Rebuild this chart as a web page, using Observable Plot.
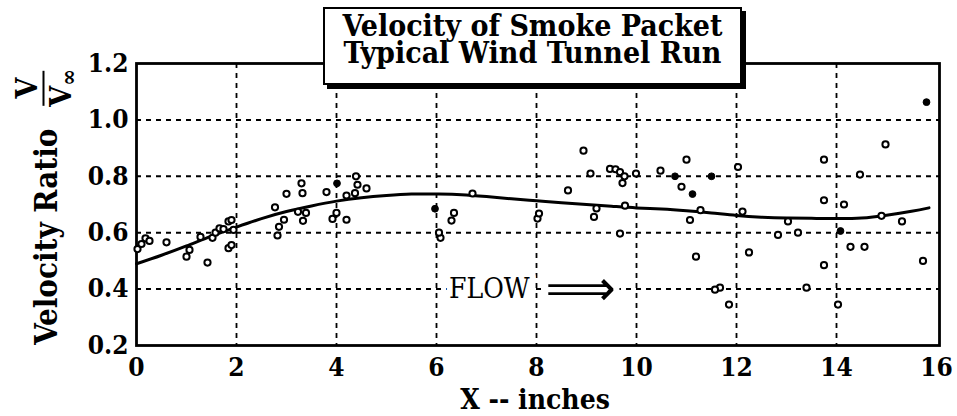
<!DOCTYPE html>
<html>
<head>
<meta charset="utf-8">
<script src="https://cdn.jsdelivr.net/npm/d3@7"></script>
<script src="https://cdn.jsdelivr.net/npm/@observablehq/plot@0.6"></script>
<style>
  html, body { margin: 0; padding: 0; background: #fff; }
  #wrap { position: relative; width: 957px; height: 416px; overflow: hidden; font-family: 'DejaVu Serif Condensed', 'DejaVu Serif', serif; font-weight: bold; color: #000; }
  #title { position: absolute; left: 323px; top: 7px; width: 419px; height: 78px; box-sizing: border-box;
           border: 2px solid #000; background: #fff; box-shadow: 4px 4px 0 #000;
           font-size: 30px; text-align: center; white-space: nowrap; }
  #title .l1, #title .l2 { position: absolute; left: 0; right: 0; height: 27px; line-height: 27px; }
  #title .l1 { top: 3px; }
  #title .l2 { top: 30px; }
  #ylab { position: absolute; left: 45px; top: 207px; transform: translate(-50%, -50%) rotate(-90deg);
          white-space: nowrap; font-size: 31px; display: flex; align-items: center; }
  .frac { display: inline-flex; flex-direction: column; align-items: center; margin-left: 22px; line-height: 1; font-size: 30px; }
  .frac .num { border-bottom: 2.5px solid #000; padding: 0 7px 1px 7px; }
  .frac .den { padding-top: 1px; }
  .frac sub { font-size: 22px; vertical-align: -5px; }
</style>
</head>
<body>
<div id="wrap">
  <div id="chart"></div>
  <div id="title"><div class="l1">Velocity of Smoke Packet</div><div class="l2">Typical Wind Tunnel Run</div></div>
  <div id="ylab"><span>Velocity Ratio</span><span class="frac"><span class="num">V</span><span class="den">V<sub>∞</sub></span></span></div>
</div>
<script>
// ---- data ----
const xTicks = [0, 2, 4, 6, 8, 10, 12, 14, 16];
const yTicks = [0.2, 0.4, 0.6, 0.8, 1.0, 1.2];
const xGrid = [2, 4, 6, 8, 10, 12, 14];
const yGrid = [0.4, 0.6, 0.8, 1.0];

// fitted curve
const curveX = [0, 0.5, 1, 1.5, 2, 2.5, 3, 3.5, 4, 4.5, 5, 5.5, 6, 6.5, 7, 7.5, 8, 8.5, 9, 9.5, 10, 10.5, 11, 11.5, 12, 12.5, 13, 13.5, 14, 14.5, 15, 15.5, 15.85];
const curveY = [0.49, 0.52, 0.553, 0.588, 0.62, 0.65, 0.675, 0.695, 0.712, 0.724, 0.732, 0.737, 0.737, 0.735, 0.728, 0.72, 0.713, 0.706, 0.700, 0.694, 0.688, 0.684, 0.678, 0.67, 0.661, 0.655, 0.652, 0.651, 0.65, 0.652, 0.662, 0.676, 0.688];

// open-circle measurements
const openX = [0.02, 0.10, 0.18, 0.26, 0.60, 1.00, 1.06, 1.42, 1.28, 1.52, 1.58, 1.66, 1.74, 1.84, 1.90, 1.94, 1.84, 1.90,
  2.77, 2.95, 2.85, 2.82, 3.0, 3.3, 3.32, 3.23, 3.39, 3.33, 3.8, 4.0, 3.92, 4.2, 4.2, 4.37, 4.39, 4.42, 4.6,
  6.72, 6.35, 6.3, 6.08, 6.05, 8.02, 8.05,
  8.94, 9.08, 8.63, 9.47, 9.58, 9.67, 9.76, 9.72, 9.99, 10.48, 9.2, 9.15, 9.77, 9.67,
  11.0, 12.03, 10.9, 11.28, 11.07, 12.12, 13.03, 12.83, 13.23, 12.25, 11.19, 11.67, 11.57, 11.85, 13.4,
  14.98, 13.75, 14.47, 13.75, 14.15, 14.9, 15.31, 14.28, 14.56, 13.75, 15.73, 14.03];
const openY = [0.542, 0.56, 0.58, 0.571, 0.566, 0.515, 0.539, 0.494, 0.585, 0.582, 0.60, 0.615, 0.613, 0.64, 0.645, 0.61, 0.545, 0.556,
  0.69, 0.646, 0.621, 0.59, 0.738, 0.775, 0.74, 0.674, 0.67, 0.642, 0.744, 0.67, 0.649, 0.646, 0.732, 0.74, 0.80, 0.77, 0.757,
  0.739, 0.67, 0.643, 0.582, 0.60, 0.65, 0.668,
  0.891, 0.81, 0.75, 0.826, 0.825, 0.815, 0.80, 0.776, 0.81, 0.82, 0.686, 0.656, 0.696, 0.597,
  0.859, 0.833, 0.763, 0.68, 0.645, 0.675, 0.64, 0.592, 0.60, 0.53, 0.515, 0.405, 0.398, 0.345, 0.405,
  0.913, 0.859, 0.806, 0.715, 0.70, 0.66, 0.64, 0.55, 0.55, 0.485, 0.50, 0.345];

// filled-dot measurements
const filledX = [4.01, 5.97, 10.77, 11.5, 11.12, 14.08, 15.8];
const filledY = [0.775, 0.685, 0.80, 0.80, 0.737, 0.606, 1.063];

// annotation
const flowText = ["FLOW"];
const flowX = [6.25];
const flowY = [0.4];
const arrowText = ["⟹"];
const arrowX = [8.18];

const curve = curveX.map((x, i) => ({x, y: curveY[i]}));
const open = openX.map((x, i) => ({x, y: openY[i]}));
const filled = filledX.map((x, i) => ({x, y: filledY[i]}));
const flow = flowText.map((t, i) => ({x: flowX[i], y: flowY[i], t}));
const arrow = arrowText.map((t, i) => ({x: arrowX[i], y: flowY[i], t}));

const chart = Plot.plot({
  width: 957,
  height: 416,
  marginLeft: 136,
  marginRight: 18,
  marginTop: 63,
  marginBottom: 71,
  style: { fontFamily: "'DejaVu Serif Condensed', 'DejaVu Serif', serif", fontSize: "26px", fontWeight: "bold", color: "#000", background: "transparent", overflow: "visible" },
  x: { domain: [0, 16.06], ticks: xTicks, tickSize: 0, tickPadding: 12, tickFormat: d => String(d), label: null },
  y: { domain: [0.2, 1.2], ticks: yTicks, tickSize: 0, tickPadding: 8, tickFormat: d3.format(".1f"), label: null },
  marks: [
    Plot.ruleX(xGrid, { stroke: "#000", strokeWidth: 1.8, strokeDasharray: "5,5" }),
    Plot.ruleY(yGrid, { stroke: "#000", strokeWidth: 2, strokeDasharray: "5,5" }),
    Plot.frame({ stroke: "#000", strokeWidth: 2.8 }),
    Plot.text(flow, { x: "x", y: "y", text: "t", textAnchor: "start", fontSize: 28, fontWeight: "normal", fill: "#000", stroke: "#fff", strokeWidth: 12 }),
    Plot.text(arrow, { x: "x", y: "y", text: "t", textAnchor: "start", fontSize: 49, fontWeight: "normal", fontFamily: "DejaVu Sans", fill: "#000", stroke: "#fff", strokeWidth: 12 }),
    Plot.line(curve, { x: "x", y: "y", curve: "natural", stroke: "#000", strokeWidth: 3 }),
    Plot.dot(open, { x: "x", y: "y", r: 3.1, stroke: "#000", strokeWidth: 2, fill: "#fff" }),
    Plot.dot(filled, { x: "x", y: "y", r: 3.4, stroke: "#000", strokeWidth: 1, fill: "#000" }),
    Plot.text(["X -- inches"], { frameAnchor: "bottom", lineAnchor: "middle", dx: -3, dy: 55, fontSize: 28, fill: "#000" })
  ]
});
document.getElementById("chart").appendChild(chart);
</script>
</body>
</html>
